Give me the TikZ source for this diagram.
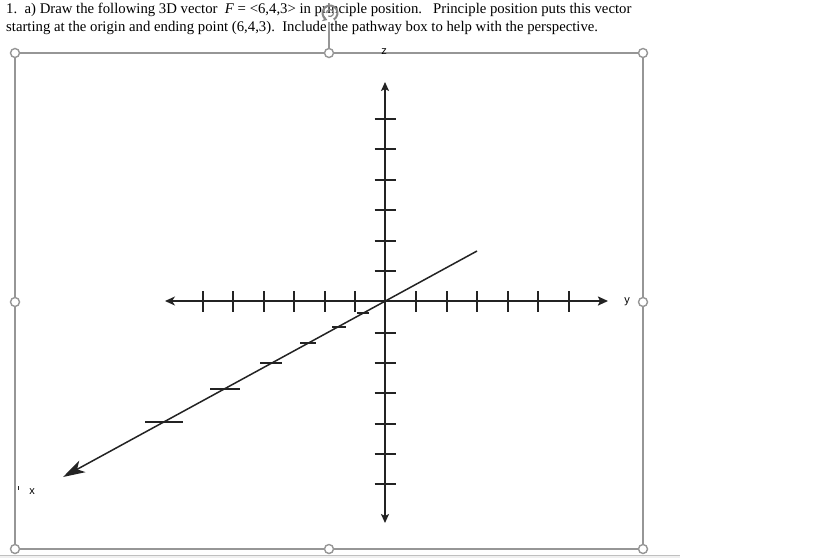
\documentclass[tikz,border=0pt]{standalone}
\usepackage{fontspec}
\setmainfont{Liberation Serif}
\newfontfamily\arialf{Liberation Sans}
\usetikzlibrary{arrows.meta}
\definecolor{framegray}{RGB}{150,150,150}
\definecolor{axisdark}{RGB}{35,35,35}
\definecolor{bandgray}{RGB}{240,240,240}
\tikzset{
  frameline/.style={draw=framegray, line width=1.1pt},
  handle/.style={circle, draw=framegray, fill=white, line width=1.4pt, minimum size=9pt, inner sep=0pt},
  axisline/.style={draw=axisdark, line width=1.6pt},
  tickmark/.style={draw=axisdark, line width=1.7pt},
  axlabel/.style={font=\arialf\fontsize{11}{12}\selectfont, inner sep=0pt},
  qtext/.style={font=\fontsize{14.75}{16}\selectfont, inner sep=0pt, anchor=base west}
}
\begin{document}
\begin{tikzpicture}[x=1pt,y=-1pt]
\useasboundingbox[fill=white] (0,0) rectangle (819,558);
% bottom band
\fill[bandgray] (0,555) rectangle (680,558);
\draw[draw=framegray!60, line width=0.8pt] (0,555) -- (680,555);
% question text
\node[qtext] (line1) at (6,13) {1.\ \ a) Draw the following 3D vector \ \textit{F} = <6,4,3> in principle position.\ \ \ Principle position puts this vector};
\node[qtext] (line2) at (6,31) {starting at the origin and ending point (6,4,3).\ \ Include the pathway box to help with the perspective.};
% frame
\coordinate (tl) at (15,53); \coordinate (tr) at (643,53);
\coordinate (bl) at (15,549); \coordinate (br) at (643,549);
\draw[frameline] (tl) rectangle (br);
% rotation handle
\coordinate (rot) at (330,13);
\draw[framegray, line width=1.1pt] (329,22) -- (329,53);
\draw[framegray!90!black, line width=2pt, -{Stealth[length=5pt,width=6pt]}] (rot) ++(60:7.5) arc[start angle=60, end angle=-250, radius=7.5];
\draw[framegray!90!black, line width=1.2pt] (rot) ++(120:3.5) arc[start angle=120, end angle=-180, radius=3.5];
\foreach \p/\n in {{(15,53)}/h1,{(329,53)}/h2,{(643,53)}/h3,{(15,302)}/h4,{(643,302)}/h5,{(15,549)}/h6,{(329,549)}/h7,{(643,549)}/h8}
  \node[handle] (\n) at \p {};
% tiny mark on left frame
\draw[axisdark, line width=0.8pt] (18,486) -- (18,490);
% axes
\coordinate (O) at (385,301);
\coordinate (ytip) at (608,301);
\coordinate (yneg) at (165,301);
\coordinate (ztip) at (385,82);
\coordinate (zneg) at (385,523);
\coordinate (xtip) at (63,477);
\coordinate (xneg) at (477,251);
\draw[axisline, line width=2.3pt, {Stealth[length=10pt,width=9pt,inset=3pt]}-{Stealth[length=10pt,width=9pt,inset=2pt]}] (yneg) -- (ytip);
\draw[axisline, line width=1.6pt, {Stealth[length=9pt,width=8pt,inset=2pt]}-{Stealth[length=9pt,width=8pt,inset=2pt]}] (zneg) -- (ztip);
\draw[axisline, line width=1.5pt, -{Stealth[length=22pt,width=13pt,inset=6pt]}] (xneg) -- (xtip);
% ticks on horizontal axis
\foreach \x in {203,233,264,294,325,355,416,447,477,508,538,569}
  \draw[tickmark] (\x,291) -- (\x,312);
% ticks on vertical axis
\foreach \y in {119,149,180,210,241,271,333,363,393,424,454,484}
  \draw[tickmark] (374.5,\y) -- (395.5,\y);
% ticks on diagonal axis
\foreach \x/\y/\h in {363/313/6,339/327/7,308/343/8,271/363/11,225/389/15,164/422/19}
  \draw[tickmark, line width=1.4pt] (\x-\h,\y) -- (\x+\h,\y);
% labels
\node[axlabel] (zl) at (384,52) {z};
\node[axlabel] (yl) at (627,302) {y};
\node[axlabel] (xl) at (32,492) {x};
\end{tikzpicture}
\end{document}
